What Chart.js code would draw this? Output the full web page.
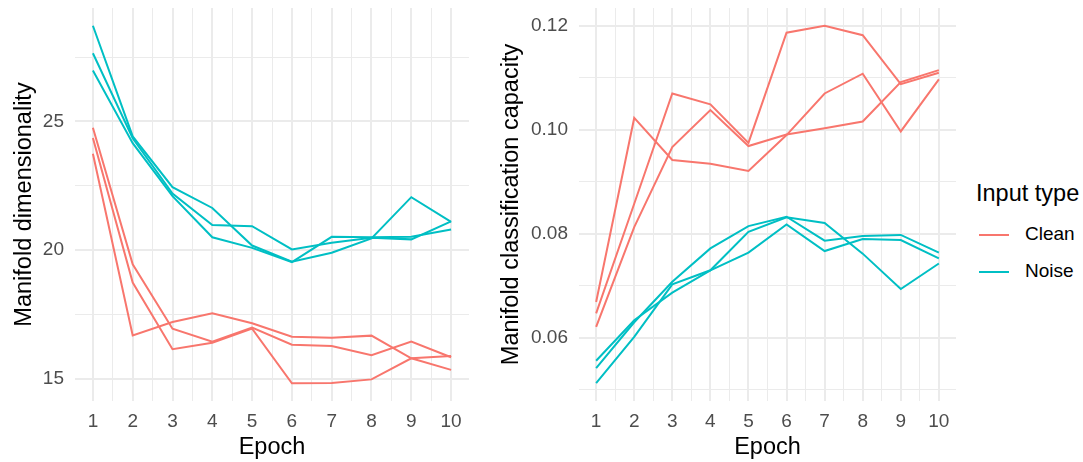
<!DOCTYPE html>
<html>
<head>
<meta charset="utf-8">
<script src="https://cdn.jsdelivr.net/npm/chart.js@4/dist/chart.umd.min.js"></script>
<style>
  body { margin: 0; background: #fff; width: 1083px; height: 462px; position: relative; overflow: hidden;
         font-family: "Liberation Sans", Arial, sans-serif; }
  canvas { position: absolute; top: 0; }
  #dimChart { left: 0; }
  #capChart { left: 480px; }
  .legend { position: absolute; left: 976px; top: 180px; color: #000; }
  .legend .title { font-size: 23.5px; margin-bottom: 16px; }
  .legend .item { position: relative; height: 37px; font-size: 19px; }
  .legend .swatch { position: absolute; left: 3px; top: 11px; width: 30px; height: 2px; }
  .legend .lab { position: absolute; left: 49px; top: 0; }
</style>
</head>
<body>
<canvas id="dimChart" width="475" height="462"></canvas>
<canvas id="capChart" width="482" height="462"></canvas>
<div class="legend">
  <div class="title">Input type</div>
  <div class="item"><span class="swatch" style="background:#F8766D"></span><span class="lab">Clean</span></div>
  <div class="item"><span class="swatch" style="background:#00BFC4"></span><span class="lab">Noise</span></div>
</div>
<script>
const epochs = [1, 2, 3, 4, 5, 6, 7, 8, 9, 10];

// Manifold dimensionality, three runs each
const dimClean1 = [24.76, 19.45, 16.95, 16.44, 16.99, 16.33, 16.28, 15.92, 16.45, 15.84];
const dimClean2 = [24.36, 18.74, 16.15, 16.40, 16.95, 14.83, 14.84, 14.98, 15.80, 15.89];
const dimClean3 = [23.75, 16.69, 17.21, 17.55, 17.16, 16.64, 16.60, 16.68, 15.80, 15.35];
const dimNoise1 = [28.72, 24.42, 22.45, 21.64, 20.18, 19.55, 19.90, 20.46, 22.06, 21.10];
const dimNoise2 = [27.65, 24.35, 22.20, 20.98, 20.93, 20.03, 20.29, 20.48, 20.42, 21.12];
const dimNoise3 = [26.98, 24.16, 22.10, 20.50, 20.09, 19.54, 20.52, 20.50, 20.52, 20.80];

// Manifold classification capacity
const capClean1 = [0.0669, 0.1023, 0.0942, 0.0935, 0.0921, 0.0990, 0.1070, 0.1108, 0.0997, 0.1097];
const capClean2 = [0.0647, 0.0858, 0.1070, 0.1049, 0.0975, 0.1187, 0.1200, 0.1182, 0.1088, 0.1110];
const capClean3 = [0.0621, 0.0813, 0.0967, 0.1038, 0.0969, 0.0991, 0.1003, 0.1016, 0.1092, 0.1115];
const capNoise1 = [0.0556, 0.0634, 0.0687, 0.0730, 0.0764, 0.0818, 0.0767, 0.0790, 0.0788, 0.0753];
const capNoise2 = [0.0542, 0.0630, 0.0708, 0.0772, 0.0815, 0.0833, 0.0787, 0.0796, 0.0798, 0.0764];
const capNoise3 = [0.0513, 0.0602, 0.0703, 0.0730, 0.0804, 0.0832, 0.0821, 0.0762, 0.0694, 0.0743];

const xTicks = [1, 1.5, 2, 2.5, 3, 3.5, 4, 4.5, 5, 5.5, 6, 6.5, 7, 7.5, 8, 8.5, 9, 9.5, 10];
const dimTicks = [15, 17.5, 20, 22.5, 25, 27.5];
const capTicks = [0.05, 0.06, 0.07, 0.08, 0.09, 0.10, 0.11, 0.12];

const CLEAN = "#F8766D";
const NOISE = "#00BFC4";
const FONT = "'Liberation Sans', Arial, sans-serif";

function series(vals, color) {
  return {
    data: vals.map((v, i) => ({ x: epochs[i], y: v })),
    borderColor: color,
    borderWidth: 2,
    pointRadius: 0,
    tension: 0,
    fill: false
  };
}

function isMajor(v, step) {
  return Math.abs(v / step - Math.round(v / step)) < 1e-6;
}

function makeChart(id, sets, yMin, yMax, yTicks, yStep, yTitle, yWidth, titlePad, fmt) {
  return new Chart(document.getElementById(id), {
    type: "line",
    data: { datasets: sets },
    options: {
      responsive: false,
      animation: false,
      layout: { padding: { top: 8, right: 6, bottom: 0, left: 0 } },
      plugins: { legend: { display: false }, tooltip: { enabled: false } },
      scales: {
        x: {
          type: "linear",
          min: 0.55,
          max: 10.45,
          afterBuildTicks: s => { s.ticks = xTicks.map(v => ({ value: v })); },
          afterFit: s => { s.height = 61; s.paddingLeft = 0; s.paddingRight = 0; },
          border: { display: false },
          grid: {
            drawTicks: false,
            color: "#EBEBEB",
            lineWidth: c => isMajor(c.tick.value, 1) ? 2 : 1
          },
          ticks: {
            autoSkip: false,
            maxRotation: 0,
            padding: 9,
            color: "#4D4D4D",
            font: { family: FONT, size: 19 },
            callback: v => isMajor(v, 1) ? String(v) : ""
          },
          title: {
            display: true,
            text: "Epoch",
            color: "#000",
            font: { family: FONT, size: 23.5 },
            padding: { top: 0, bottom: 0 }
          }
        },
        y: {
          min: yMin,
          max: yMax,
          afterBuildTicks: s => { s.ticks = yTicks.map(v => ({ value: v })); },
          afterFit: s => { s.width = yWidth; s.paddingTop = 0; s.paddingBottom = 0; },
          border: { display: false },
          grid: {
            drawTicks: false,
            color: "#EBEBEB",
            lineWidth: c => isMajor(c.tick.value, yStep) ? 2 : 1
          },
          ticks: {
            autoSkip: false,
            padding: 11,
            color: "#4D4D4D",
            font: { family: FONT, size: 19 },
            callback: v => isMajor(v, yStep) ? fmt(v) : ""
          },
          title: {
            display: true,
            text: yTitle,
            color: "#000",
            font: { family: FONT, size: 23.5 },
            padding: { top: titlePad, bottom: 0 }
          }
        }
      }
    }
  });
}

makeChart("dimChart", [
  series(dimClean1, CLEAN), series(dimClean2, CLEAN), series(dimClean3, CLEAN),
  series(dimNoise1, NOISE), series(dimNoise2, NOISE), series(dimNoise3, NOISE)
], 14.14, 29.41, dimTicks, 5, "Manifold dimensionality", 75, 10, v => String(v));

makeChart("capChart", [
  series(capClean1, CLEAN), series(capClean2, CLEAN), series(capClean3, CLEAN),
  series(capNoise1, NOISE), series(capNoise2, NOISE), series(capNoise3, NOISE)
], 0.04786, 0.12344, capTicks, 0.02, "Manifold classification capacity", 99, 17, v => v.toFixed(2));
</script>
</body>
</html>
